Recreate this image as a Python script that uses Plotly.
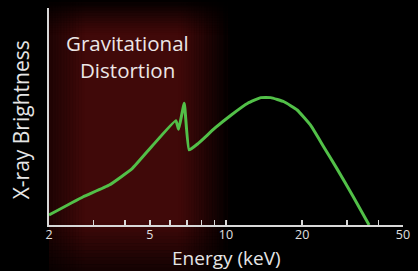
import plotly.graph_objects as go

# Data (energy in keV, brightness in arbitrary units 0-100)
energy_kev = [2.0, 2.72, 3.46, 4.27, 5.11, 6.34, 6.50, 6.84, 7.15, 7.77, 9.03,
              10.49, 12.19, 13.73, 15.02, 16.95, 19.10, 21.54, 24.29, 27.38, 31.81, 36.73]
brightness = [4.6, 12.9, 18.4, 26.1, 36.4, 48.1, 44.1, 56.1, 34.6, 37.6, 44.6,
              50.7, 56.1, 58.7, 58.7, 56.8, 53.0, 46.1, 36.1, 26.1, 13.0, 0.0]

tick_vals = [2, 3, 4, 5, 6, 7, 8, 9, 10, 20, 30, 40, 50]
tick_text = ["2", "", "", "5", "", "", "", "", "10", "20", "", "", "50"]

W, H = 418, 271
ML, MR, MT, MB = 49, 11, 8, 46
PW, PH = W - ML - MR, H - MT - MB


def pxx(px):
    return (px - ML) / PW


def pxy(py):
    return (H - MB - py) / PH


shapes = []
# base dark-red glow
shapes.append(dict(type="rect", xref="paper", yref="paper", layer="below",
                   x0=pxx(49), x1=pxx(232), y0=pxy(0), y1=pxy(271),
                   fillcolor="rgb(64,9,9)", line=dict(width=0)))


def overlay(x0, x1, y0, y1, a):
    if a <= 0:
        return
    shapes.append(dict(type="rect", xref="paper", yref="paper", layer="below",
                       x0=pxx(x0), x1=pxx(x1), y0=pxy(y0), y1=pxy(y1),
                       fillcolor="black", opacity=min(a, 1), line=dict(width=0)))


# right fade 180 -> 232
n = 20
for i in range(n):
    a0 = 180 + (232 - 180) * i / n
    a1 = 180 + (232 - 180) * (i + 1) / n
    t = (i + 0.5) / n
    overlay(a0, a1 + 0.3, 0, 271, t ** 1.2)
# left fade 49 -> 85
n = 12
for i in range(n):
    a0 = 49 + (85 - 49) * i / n
    a1 = 49 + (85 - 49) * (i + 1) / n
    t = (i + 0.5) / n
    overlay(a0, a1 + 0.3, 0, 271, 0.5 * (1 - t))
# top fade 0 -> 35
n = 14
for i in range(n):
    b0 = 35 * i / n
    b1 = 35 * (i + 1) / n
    t = (i + 0.5) / n
    overlay(49, 232, b0, b1 + 0.3, (1 - t) ** 1.3)
# bottom fade 222 -> 271
n = 14
for i in range(n):
    b0 = 222 + 49 * i / n
    b1 = 222 + 49 * (i + 1) / n
    t = (i + 0.5) / n
    overlay(49, 232, b0, b1 + 0.3, 0.7 * t)

fig = go.Figure()
fig.add_trace(go.Scatter(x=energy_kev, y=brightness, mode="lines",
                         line=dict(color="rgb(82,192,72)", width=3, shape="spline", smoothing=0.35),
                         hoverinfo="skip", showlegend=False))

font_family = "Open Sans, Noto Sans, sans-serif"

fig.update_layout(
    width=W, height=H,
    margin=dict(l=ML, r=MR, t=MT, b=MB, pad=0),
    paper_bgcolor="black", plot_bgcolor="rgba(0,0,0,0)",
    shapes=shapes,
    showlegend=False,
    font=dict(family=font_family, color="#dddddd"),
    xaxis=dict(type="log", range=[0.30103, 1.69897], showgrid=False, zeroline=False,
               showline=True, linecolor="#d8d8d8", linewidth=2,
               tickmode="array", tickvals=tick_vals, ticktext=tick_text,
               ticks="inside", ticklen=5, tickwidth=1.5, tickcolor="#d8d8d8",
               ticklabelstandoff=-3,
               tickfont=dict(size=12.5, color="#e0e0e0", family=font_family)),
    yaxis=dict(range=[0, 100], showgrid=False, zeroline=False, showline=True,
               linecolor="#d8d8d8", linewidth=2, showticklabels=False, ticks=""),
    annotations=[
        dict(text="Gravitational", xref="paper", yref="paper",
             x=pxx(128), y=pxy(43), xanchor="center", yanchor="middle",
             showarrow=False, font=dict(size=20.5, color="#ece6e6", family=font_family)),
        dict(text="Distortion", xref="paper", yref="paper",
             x=pxx(128), y=pxy(70), xanchor="center", yanchor="middle",
             showarrow=False, font=dict(size=20.5, color="#ece6e6", family=font_family)),
        dict(text="X-ray Brightness", xref="paper", yref="paper", textangle=-90,
             x=pxx(21), y=pxy(120), xanchor="center", yanchor="middle",
             showarrow=False, font=dict(size=21, color="#e6e6e6", family=font_family)),
        dict(text="Energy (keV)", xref="paper", yref="paper",
             x=pxx(228), y=pxy(257.5), xanchor="center", yanchor="middle",
             showarrow=False, font=dict(size=19, color="#e6e6e6", family=font_family)),
    ],
)

fig.write_html("out.html", config={"displayModeBar": False, "staticPlot": True},
               post_script="document.body.style.margin='0';document.body.style.background='black';")
